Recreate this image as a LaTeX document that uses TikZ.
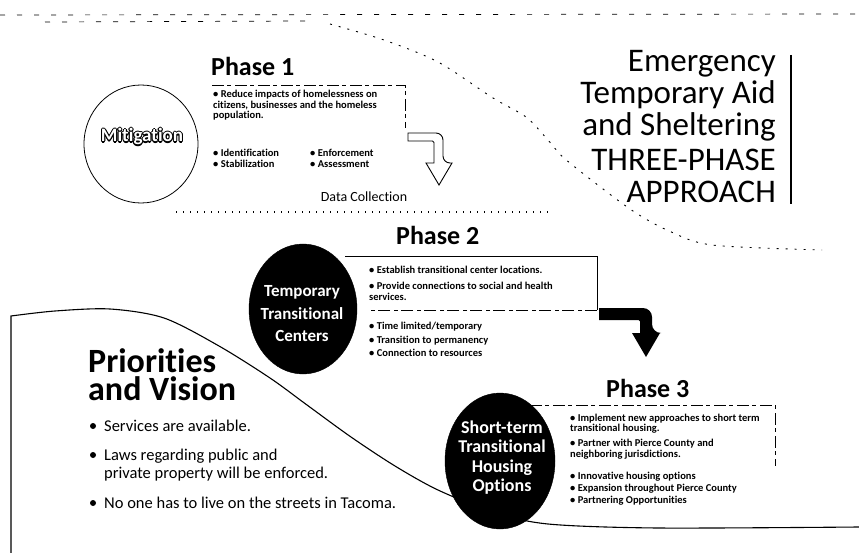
\documentclass[tikz,border=0pt]{standalone}
\usepackage{fontspec}
\setmainfont[Ligatures=NoCommon]{Carlito}
\usetikzlibrary{calc,shapes.geometric}
\newcommand\myfs[2]{\fontsize{#1}{#2}\selectfont}
\tikzset{
  ttl/.style={font=\bfseries\myfs{26}{26}, anchor=base west, inner sep=0pt},
  bl/.style={font=\bfseries\myfs{10.5}{10.5}, anchor=base west, inner sep=0pt},
  ctext/.style={font=\bfseries\myfs{17}{17}, text=white, anchor=base, inner sep=0pt},
  ctextb/.style={font=\bfseries\myfs{18}{18}, text=white, anchor=base, inner sep=0pt},
  bigt/.style={font=\myfs{33}{33}, anchor=base east, inner sep=0pt},
  pv/.style={font=\bfseries\myfs{34}{34}, anchor=base west, inner sep=0pt},
  pb/.style={font=\myfs{16.5}{16.5}, anchor=base west, inner sep=0pt},
  mitf/.style={font=\bfseries\myfs{19}{19}, anchor=base, inner sep=0pt},
  boxline/.style={line width=0.6pt, dash pattern=on 12pt off 3pt on 4pt off 4pt},
  faint/.style={line width=0.7pt, dash pattern=on 5pt off 12pt},
  dots/.style={line width=0.9pt, dash pattern=on 2pt off 7pt},
}
\begin{document}
\begin{tikzpicture}[x=1pt,y=-1pt]
\useasboundingbox[fill=white] (0,0) rectangle (859,553);

% top faint border and diagonal
\draw[faint] (0,15) -- (859,14);
\draw[faint] (45,22) -- (310,21);
\draw[dots] plot[smooth] coordinates {(330,24) (384,40) (438,62) (493,98) (526,117) (548,140) (564,158) (603,189) (636,213) (669,231) (712,245) (822,250)};

% Phase 1
\node[draw, ellipse, line width=0.8pt, minimum width=114pt, minimum height=118pt, inner sep=0pt] (mit) at (141,144) {};
\coordinate (mitc) at (142,142);
\foreach \a in {0,45,...,315}{
  \node[mitf, text=black] (ms\a) at ($(mitc)+(\a:1.1pt)$) {Mitigation};
}
\node[mitf, text=white] (mitt) at (mitc) {Mitigation};

\node[ttl] (ph1) at (211,76) {Phase 1};
\coordinate (b1a) at (212,85);
\coordinate (b1b) at (405,85);
\coordinate (b1c) at (405,128);
\draw[boxline] (b1a) -- (b1b) -- (b1c);
\node[bl] (p1a) at (213,98) {• Reduce impacts of homelessness on};
\node[bl] (p1b) at (213,109) {citizens, businesses and the homeless};
\node[bl] (p1c) at (213,119) {population.};
\node[bl] (p1d) at (213,157) {• Identification};
\node[bl] (p1e) at (213,168) {• Stabilization};
\node[bl] (p1f) at (310,157) {• Enforcement};
\node[bl] (p1g) at (310,168) {• Assessment};

% hollow arrow 1
\filldraw[fill=white, line width=0.9pt] (408,133) [rounded corners=7pt] -- (443,133) -- (443,163) [sharp corners] -- (452,163) -- (439,185) -- (426,163) -- (434,163) [rounded corners=1.5pt] -- (434,141) [sharp corners] -- (408,141) -- cycle;

\node[font=\myfs{14}{14}, anchor=base, inner sep=0pt] (dc) at (364,202) {Data Collection};
\coordinate (dl1) at (176,212);
\coordinate (dl2) at (553,212);
\draw[line width=1.3pt, dash pattern=on 1.3pt off 5.7pt] (dl1) -- (dl2);

% Title
\node[bigt] (t1) at (776,72) {Emergency};
\node[bigt] (t2) at (776,104) {Temporary Aid};
\node[bigt] (t3) at (776,136) {and Sheltering};
\node[bigt] (t4) at (776,171) {THREE-PHASE};
\node[bigt] (t5) at (776,203) {APPROACH};
\coordinate (vb1) at (791,55);
\coordinate (vb2) at (791,204);
\draw[line width=1.4pt] (vb1) -- (vb2);

% big S curve
\draw[line width=1.1pt] (11,553) -- plot[smooth] coordinates {(11,316) (55,311) (110,309) (164,318) (219,346) (270,378) (307,405) (351,437) (395,466) (438,490) (493,512) (548,524) (658,528) (859,527)};

% Phase 2
\node[ttl] (ph2) at (396,245) {Phase 2};
\coordinate (b2a) at (345,256);
\coordinate (b2b) at (597,256);
\coordinate (b2c) at (597,310);
\coordinate (b2d) at (370,310);
\draw[line width=0.7pt] (b2a) -- (b2b) -- (b2c);
\draw[boxline] (b2c) -- (b2d);
\node[draw, fill=black, ellipse, minimum width=108pt, minimum height=130pt, inner sep=0pt] (c2) at (303,309) {};
\node[ctext] (c2a) at (302,297) {Temporary};
\node[ctext] (c2b) at (302,319) {Transitional};
\node[ctext] (c2c) at (302,341) {Centers};
\node[bl] (p2a) at (369,273) {• Establish transitional center locations.};
\node[bl] (p2b) at (369,290) {• Provide connections to social and health};
\node[bl] (p2c) at (369,301) {services.};
\node[bl] (p2d) at (369,329) {• Time limited/temporary};
\node[bl] (p2e) at (369,343) {• Transition to permanency};
\node[bl] (p2f) at (369,356) {• Connection to resources};

% solid arrow 2
\fill[black] (599,308) [rounded corners=9pt] -- (652,308) -- (652,333) [sharp corners] -- (660,333) -- (646,357) -- (632,333) -- (640,333) [rounded corners=1.5pt] -- (640,320) [sharp corners] -- (599,320) -- cycle;

% Phase 3
\node[ttl] (ph3) at (606,397) {Phase 3};
\coordinate (b3a) at (530,405);
\coordinate (b3b) at (775,405);
\coordinate (b3c) at (775,466);
\draw[boxline] (b3a) -- (b3b) -- (b3c);
\node[draw, fill=black, ellipse, minimum width=110pt, minimum height=136pt, inner sep=0pt] (c3) at (500,461) {};
\node[ctextb] (c3a) at (502,433) {Short-term};
\node[ctextb] (c3b) at (502,452) {Transitional};
\node[ctextb] (c3c) at (502,472) {Housing};
\node[ctextb] (c3d) at (502,491) {Options};
\node[bl] (p3a) at (570,421) {• Implement new approaches to short term};
\node[bl] (p3b) at (570,431) {transitional housing.};
\node[bl] (p3c) at (570,446) {• Partner with Pierce County and};
\node[bl] (p3d) at (570,457) {neighboring jurisdictions.};
\node[bl] (p3e) at (570,479) {• Innovative housing options};
\node[bl] (p3f) at (570,491) {• Expansion throughout Pierce County};
\node[bl] (p3g) at (570,503) {• Partnering Opportunities};

% Priorities and Vision
\node[pv] (pv1) at (88,372) {Priorities};
\node[pv] (pv2) at (88,400) {and Vision};
\fill (93,426) circle (3pt);
\node[pb] (pb1) at (104,431) {Services are available.};
\fill (93,455) circle (3pt);
\node[pb] (pb2) at (104,460) {Laws regarding public and};
\node[pb] (pb3) at (104,478) {private property will be enforced.};
\fill (93,503) circle (3pt);
\node[pb] (pb4) at (104,508) {No one has to live on the streets in Tacoma.};
\end{tikzpicture}
\end{document}
